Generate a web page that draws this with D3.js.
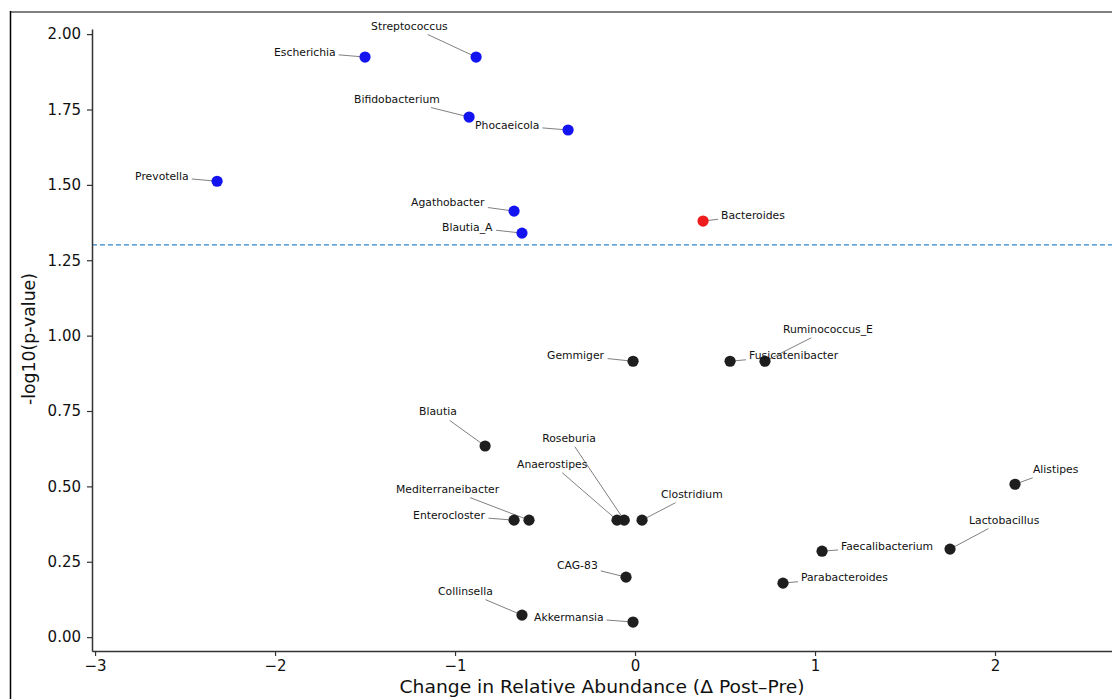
<!DOCTYPE html>
<html>
<head>
<meta charset="utf-8">
<script src="https://cdn.jsdelivr.net/npm/d3@7"></script>
<style>
  html, body { margin: 0; padding: 0; background: #fff; }
  svg { display: block; font-family: "DejaVu Sans", sans-serif; }
</style>
</head>
<body>
<svg id="chart" width="1112" height="699"></svg>
<script>
// ---- data ----
const genera = ["Escherichia","Streptococcus","Bifidobacterium","Phocaeicola","Prevotella","Agathobacter","Blautia_A","Bacteroides","Ruminococcus_E","Fusicatenibacter","Gemmiger","Blautia","Roseburia","Anaerostipes","Mediterraneibacter","Clostridium","Enterocloster","Alistipes","Lactobacillus","Faecalibacterium","Parabacteroides","CAG-83","Collinsella","Akkermansia"];
const deltaAbundance = [-1.50,-0.883,-0.922,-0.372,-2.322,-0.672,-0.628,0.378,0.722,0.528,-0.011,-0.833,-0.060,-0.100,-0.589,0.039,-0.672,2.111,1.750,1.039,0.822,-0.050,-0.628,-0.011];
const negLog10P = [1.924,1.924,1.725,1.682,1.512,1.413,1.340,1.380,0.915,0.915,0.915,0.634,0.388,0.388,0.388,0.388,0.388,0.507,0.292,0.285,0.179,0.199,0.073,0.050];
const threshold = 1.30103; // -log10(0.05)
const xTicks = [-3,-2,-1,0,1,2];
const yTicks = [0,0.25,0.5,0.75,1.0,1.25,1.5,1.75,2.0];
const xLabel = "Change in Relative Abundance (\u0394 Post\u2013Pre)";
const yLabel = "-log10(p-value)";

// ---- label layout (pixel offsets of label left/center from point) ----
const labelOffsets = {
  "Escherichia":[-91,-5],"Streptococcus":[-105,-31],"Bifidobacterium":[-115,-18],"Phocaeicola":[-93,-5],
  "Prevotella":[-82,-5],"Agathobacter":[-103,-9],"Blautia_A":[-80,-6],"Bacteroides":[18,-6],
  "Ruminococcus_E":[18,-32],"Fusicatenibacter":[19,-6],"Gemmiger":[-86,-6],"Blautia":[-66,-34],
  "Roseburia":[-82,-82],"Anaerostipes":[-100,-56],"Mediterraneibacter":[-133,-31],"Clostridium":[19,-26],
  "Enterocloster":[-101,-5],"Alistipes":[18,-15],"Lactobacillus":[19,-29],"Faecalibacterium":[19,-5],
  "Parabacteroides":[18,-6],"CAG-83":[-69,-12],"Collinsella":[-84,-24],"Akkermansia":[-99,-5]
};

const data = genera.map((g,i)=>({name:g, x:deltaAbundance[i], y:negLog10P[i]}));

const svg = d3.select("#chart");
const W = 1112, H = 699;
const mLeft = 92, mRight = 1112, mTop = 29, mBottom = 651;

// outer frame pieces
svg.append("line").attr("x1",10).attr("x2",W).attr("y1",12).attr("y2",12)
  .attr("stroke","#808080").attr("stroke-width",2);
svg.append("line").attr("x1",10.5).attr("x2",10.5).attr("y1",11).attr("y2",H)
  .attr("stroke","#000").attr("stroke-width",1.5);

const x = d3.scaleLinear().domain([-3.017, 2.65]).range([mLeft, mRight]);
const y = d3.scaleLinear().domain([-0.046, 2.017]).range([mBottom, mTop]);

// threshold line
svg.append("line").attr("x1",mLeft).attr("x2",mRight)
  .attr("y1",y(threshold)).attr("y2",y(threshold))
  .attr("stroke","#2a86d0").attr("stroke-width",1.3).attr("stroke-dasharray","5,3");

// axes
const fmtX = d => d < 0 ? "\u2212" + Math.abs(d) : String(d);
const xAxis = svg.append("g").attr("transform",`translate(0,${mBottom})`)
  .call(d3.axisBottom(x).tickValues(xTicks).tickFormat(fmtX).tickSize(5).tickPadding(4).tickSizeOuter(0));
const yAxis = svg.append("g").attr("transform",`translate(${mLeft},0)`)
  .call(d3.axisLeft(y).tickValues(yTicks).tickFormat(d3.format(".2f")).tickSize(5).tickPadding(6).tickSizeOuter(0));
[xAxis,yAxis].forEach(a=>{
  a.select(".domain").attr("stroke","#333").attr("stroke-width",1.5);
  a.selectAll(".tick line").attr("stroke","#333").attr("stroke-width",1.2);
  a.selectAll(".tick text").attr("fill","#111").style("font-size","15px").style("font-family","DejaVu Sans");
});
svg.append("text").attr("x",602).attr("y",693).attr("text-anchor","middle")
  .attr("textLength",405).attr("lengthAdjust","spacingAndGlyphs")
  .style("font-size","17.8px").attr("fill","#111").text(xLabel);
svg.append("text").attr("transform",`translate(35,${(mTop+mBottom)/2 - 1}) rotate(-90)`)
  .attr("text-anchor","middle").style("font-size","17.3px").attr("fill","#111").text(yLabel);

const lineG = svg.append("g");
const ptG = svg.append("g");
const lblG = svg.append("g");

data.forEach(d=>{
  const px = x(d.x), py = y(d.y);
  const off = labelOffsets[d.name];
  const t = lblG.append("text").attr("x",px+off[0]).attr("y",py+off[1])
    .attr("dominant-baseline","central").style("font-size","10.8px").attr("fill","#111").text(d.name);
  const bb = t.node().getBBox();
  const pad = 3;
  const bx0 = bb.x-pad, bx1 = bb.x+bb.width+pad, by0 = bb.y-pad+1, by1 = bb.y+bb.height+pad-1;
  const cx = bb.x+bb.width/2, cy = bb.y+bb.height/2;
  const dx = px-cx, dy = py-cy;
  let tt = 1;
  if (dx !== 0) tt = Math.min(tt, Math.max((bx0-cx)/dx, (bx1-cx)/dx));
  if (dy !== 0) tt = Math.min(tt, Math.max((by0-cy)/dy, (by1-cy)/dy));
  lineG.append("line").attr("x1",cx+dx*tt).attr("y1",cy+dy*tt).attr("x2",px).attr("y2",py)
    .attr("stroke","#808080").attr("stroke-width",1);
});

ptG.selectAll("circle").data(data).join("circle")
  .attr("cx",d=>x(d.x)).attr("cy",d=>y(d.y)).attr("r",5.6)
  .attr("fill",d=> d.y > threshold ? (d.x < 0 ? "#1414f0" : "#ee1c1c") : "#1e1e1e");
</script>
</body>
</html>
